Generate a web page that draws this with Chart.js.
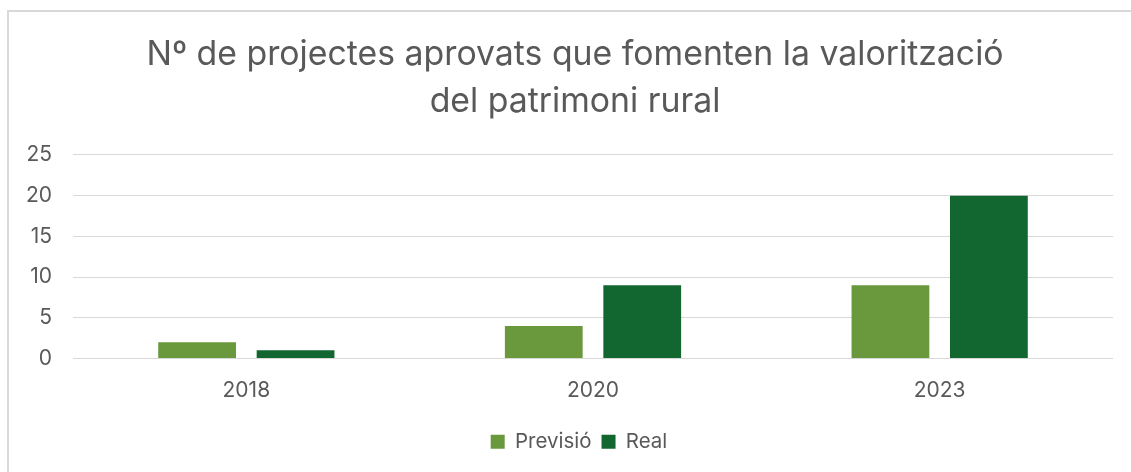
<!DOCTYPE html>
<html>
<head>
<meta charset="utf-8">
<script src="https://cdn.jsdelivr.net/npm/chart.js@4"></script>
<style>
  html, body { margin: 0; padding: 0; background: #fff; overflow: hidden; }
  body { width: 1131px; height: 472px; position: relative; }
  #frame { position: absolute; left: 7px; top: 10px; width: 1200px; height: 600px; border-top: 2px solid #d9d9d9; border-left: 2px solid #d9d9d9; }
  #wrap { position: absolute; left: 9px; top: 12px; width: 1132px; height: 460px; }
</style>
</head>
<body>
<div id="frame"></div>
<div id="wrap"><canvas id="c"></canvas></div>
<script>
const categories = ['2018', '2020', '2023'];
const previsio = [2, 4, 9];
const real = [1, 9, 20];
const seriesNames = ['Previsió', 'Real'];
const titleLines = ['Nº de projectes aprovats que fomenten la valorització', 'del patrimoni rural'];
const yTicks = [0, 5, 10, 15, 20, 25];

const FONT = "Inter, Arial, sans-serif";
const TEXT = '#595959';

// centre the title and legend on the whole frame rather than on the padded box
const shiftBlocks = {
  id: 'shiftBlocks',
  afterLayout(chart) {
    if (chart.titleBlock) { chart.titleBlock.left += 14; chart.titleBlock.right += 14; }
    if (chart.legend) { chart.legend.left += 18; chart.legend.right += 18; }
  }
};

new Chart(document.getElementById('c'), {
  type: 'bar',
  data: {
    labels: categories,
    datasets: [
      { label: seriesNames[0], data: previsio, backgroundColor: '#6A993D', borderWidth: 0 },
      { label: seriesNames[1], data: real, backgroundColor: '#126630', borderWidth: 0 }
    ]
  },
  plugins: [shiftBlocks],
  options: {
    responsive: true,
    maintainAspectRatio: false,
    animation: false,
    datasets: { bar: { categoryPercentage: 0.568, barPercentage: 0.79 } },
    layout: { padding: { left: 0, right: 28, top: 0, bottom: 10 } },
    plugins: {
      title: {
        display: true,
        text: titleLines,
        color: TEXT,
        font: { family: FONT, size: 33.8, weight: 'normal', lineHeight: 1.39 },
        padding: { top: 19, bottom: 30 }
      },
      legend: {
        position: 'bottom',
        labels: {
          color: TEXT,
          font: { family: FONT, size: 20.5 },
          boxWidth: 14,
          boxHeight: 14,
          padding: 10
        }
      },
      tooltip: { enabled: false }
    },
    scales: {
      x: {
        grid: { display: false },
        border: { display: false },
        ticks: { color: TEXT, font: { family: FONT, size: 21 }, padding: 12 },
        afterFit: (s) => { s.height = 63; }
      },
      y: {
        min: 0,
        max: 25,
        afterBuildTicks: (s) => { s.ticks = yTicks.map(v => ({ value: v })); },
        grid: { color: '#d9d9d9', lineWidth: 1, drawTicks: false },
        border: { display: false },
        ticks: { color: TEXT, font: { family: FONT, size: 21 }, padding: 21 },
        afterFit: (s) => { s.width = 64; }
      }
    }
  }
});
</script>
</body>
</html>
